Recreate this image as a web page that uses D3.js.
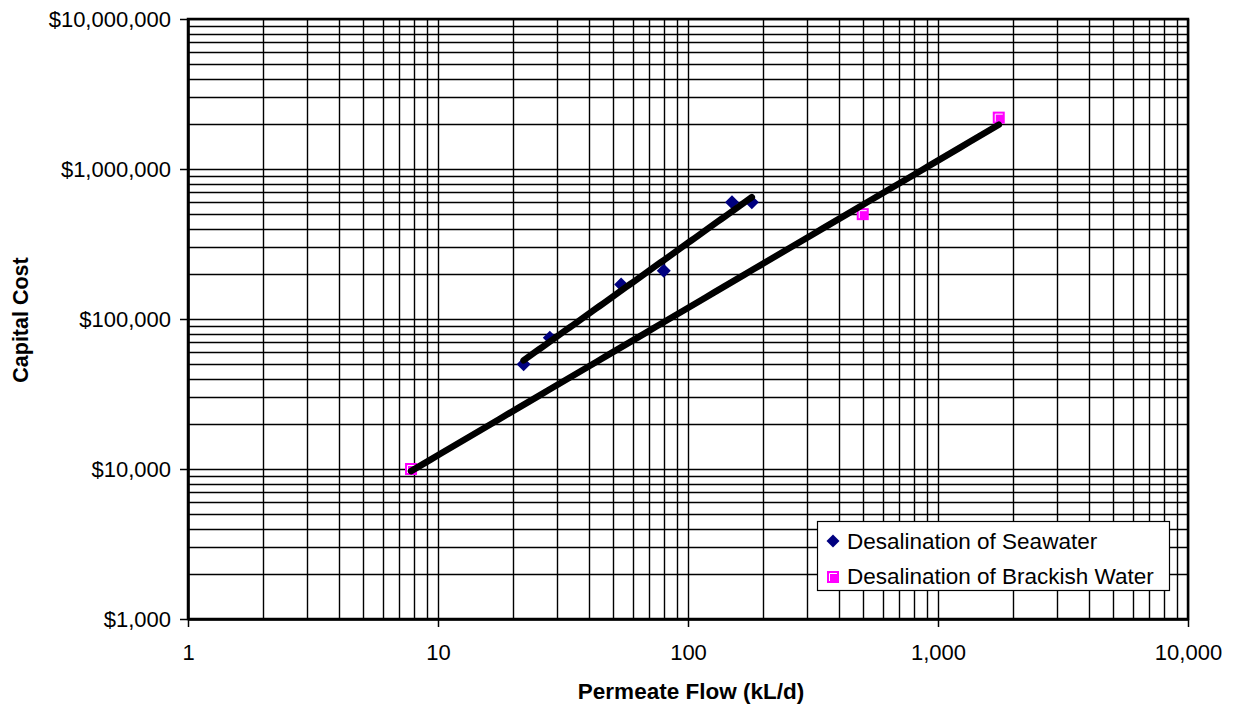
<!DOCTYPE html>
<html>
<head>
<meta charset="utf-8">
<script src="https://cdn.jsdelivr.net/npm/d3@7"></script>
<style>
  html, body { margin: 0; padding: 0; background: #fff; }
  svg { display: block; font-family: "Liberation Sans", Arial, sans-serif; }
</style>
</head>
<body>
<svg id="chart" width="1240" height="707"></svg>
<script>
// ---- data ----
const seawaterFlow = [22, 28, 54, 80, 150, 180];
const seawaterCost = [50000, 75000, 170000, 210000, 600000, 600000];
const brackishFlow = [7.8, 500, 1750];
const brackishCost = [10000, 500000, 2200000];
const seriesNames = ["Desalination of Seawater", "Desalination of Brackish Water"];
const xTickValues = [1, 10, 100, 1000, 10000];
const xTickLabels = ["1", "10", "100", "1,000", "10,000"];
const yTickValues = [1000, 10000, 100000, 1000000, 10000000];
const yTickLabels = ["$1,000", "$10,000", "$100,000", "$1,000,000", "$10,000,000"];
const xTitle = "Permeate Flow (kL/d)";
const yTitle = "Capital Cost";

// ---- layout ----
const L = 188, R = 1188, T = 19, B = 619;
const svg = d3.select("#chart");
const x = d3.scaleLog().domain([1, 10000]).range([L, R]);
const y = d3.scaleLog().domain([1000, 10000000]).range([B, T]);
const px = v => Math.round(v) + 0.5;

// gridlines
const grid = svg.append("g");
grid.selectAll("line.gx").data(x.ticks()).join("line")
  .attr("x1", d => px(x(d))).attr("x2", d => px(x(d)))
  .attr("y1", T).attr("y2", B)
  .attr("stroke", "#000").attr("stroke-width", 1.4);
grid.selectAll("line.gy").data(y.ticks()).join("line")
  .attr("x1", L).attr("x2", R)
  .attr("y1", d => px(y(d))).attr("y2", d => px(y(d)))
  .attr("stroke", "#000").attr("stroke-width", 1.4);

// plot border
svg.append("rect").attr("x", L).attr("y", T).attr("width", R - L).attr("height", B - T)
  .attr("fill", "none").attr("stroke", "#000").attr("stroke-width", 2.5);

// axes
const xAxis = d3.axisBottom(x).tickValues(xTickValues)
  .tickFormat((d, i) => xTickLabels[i]).tickSize(8).tickSizeOuter(0).tickPadding(17);
const gx = svg.append("g").attr("transform", `translate(0,${B})`).call(xAxis);
const yAxis = d3.axisLeft(y).tickValues(yTickValues)
  .tickFormat((d, i) => yTickLabels[i]).tickSize(8).tickSizeOuter(0).tickPadding(9);
const gy = svg.append("g").attr("transform", `translate(${L},0)`).call(yAxis);
[gx, gy].forEach(g => {
  g.select(".domain").attr("stroke", "#000").attr("stroke-width", 2.5);
  g.selectAll(".tick line").attr("stroke", "#000").attr("stroke-width", 1.5);
  g.selectAll(".tick text").attr("fill", "#000").style("font-size", "22px")
    .style("font-family", '"Liberation Sans", Arial, sans-serif');
});

// axis titles
svg.append("text").attr("x", 691).attr("y", 699).attr("text-anchor", "middle")
  .style("font-size", "22.5px").style("font-weight", "bold").text(xTitle);
svg.append("text").attr("transform", "translate(28,320) rotate(-90)").attr("text-anchor", "middle")
  .style("font-size", "21.5px").style("font-weight", "bold").text(yTitle);

// power-law trend fits
function powerFit(xs, ys) {
  const lx = xs.map(Math.log10), ly = ys.map(Math.log10);
  const mx = d3.mean(lx), my = d3.mean(ly);
  const b = d3.sum(lx, (v, i) => (v - mx) * (ly[i] - my)) / d3.sum(lx, v => (v - mx) * (v - mx));
  const a = my - b * mx;
  return v => Math.pow(10, a + b * Math.log10(v));
}
function trendPoints(xs, ys) {
  const f = powerFit(xs, ys);
  const lo = d3.min(xs), hi = d3.max(xs);
  return d3.range(0, 61).map(i => {
    const v = Math.pow(10, Math.log10(lo) + (Math.log10(hi) - Math.log10(lo)) * i / 60);
    return [v, f(v)];
  });
}
const lineGen = d3.line().x(d => x(d[0])).y(d => y(d[1]));

// markers: seawater diamonds
const seaData = seawaterFlow.map((v, i) => [v, seawaterCost[i]]);
const brkData = brackishFlow.map((v, i) => [v, brackishCost[i]]);
const diamond = (cx, cy, r) => `M${cx},${cy - r}L${cx + r},${cy}L${cx},${cy + r}L${cx - r},${cy}Z`;
svg.append("g").selectAll("path").data(seaData).join("path")
  .attr("d", d => diamond(x(d[0]), y(d[1]), 7)).attr("fill", "#000080");
function drawSquare(g, cx, cy) {
  g.append("rect").attr("x", cx - 6).attr("y", cy - 6).attr("width", 12).attr("height", 12)
    .attr("fill", "#FF00FF");
  g.append("path").attr("d", `M${cx - 3.5},${cy + 4}L${cx - 3.5},${cy - 3.5}L${cx + 4},${cy - 3.5}`)
    .attr("fill", "none").attr("stroke", "#fff").attr("stroke-width", 1);
}
const sq = svg.append("g");
brkData.forEach(d => drawSquare(sq, x(d[0]), y(d[1])));

// trendlines
svg.append("path").datum(trendPoints(seawaterFlow, seawaterCost)).attr("d", lineGen)
  .attr("fill", "none").attr("stroke", "#000").attr("stroke-width", 6.5)
  .attr("stroke-linecap", "round").attr("stroke-linejoin", "round");
svg.append("path").datum(trendPoints(brackishFlow, brackishCost)).attr("d", lineGen)
  .attr("fill", "none").attr("stroke", "#000").attr("stroke-width", 6.5)
  .attr("stroke-linecap", "round").attr("stroke-linejoin", "round");

// legend
const lg = svg.append("g");
lg.append("rect").attr("x", 817.5).attr("y", 521.5).attr("width", 352).attr("height", 69)
  .attr("fill", "#fff").attr("stroke", "#000").attr("stroke-width", 1.2);
lg.append("path").attr("d", diamond(833, 541, 6.5)).attr("fill", "#000080");
drawSquare(lg, 833, 577);
lg.selectAll("text").data(seriesNames).join("text")
  .attr("x", 847).attr("y", (d, i) => 549 + i * 35)
  .style("font-size", "22.5px").attr("fill", "#000").text(d => d);
</script>
</body>
</html>
